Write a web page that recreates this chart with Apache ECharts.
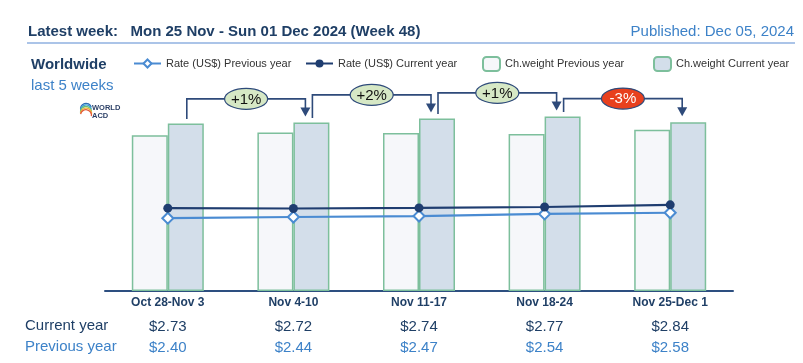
<!DOCTYPE html>
<html><head><meta charset="utf-8">
<script src="https://cdn.jsdelivr.net/npm/echarts@6/dist/echarts.min.js"></script>
<style>html,body{margin:0;padding:0;background:#fff}#c{width:803px;height:363px}</style>
</head><body><div id="c"></div>
<script>
const categories = ['Oct 28-Nov 3','Nov 4-10','Nov 11-17','Nov 18-24','Nov 25-Dec 1'];
const weightPrev = [155.7,158.4,158.0,157.1,161.2];
const weightCurr = [167.4,168.4,172.4,174.4,168.7];
const ratePrev = [2.40,2.44,2.47,2.54,2.58];
const rateCurr = [2.73,2.72,2.74,2.77,2.84];
const changes = ['+1%','+2%','+1%','-3%'];
const rateLabelsCurr = rateCurr.map(v=>'$'+v.toFixed(2));
const rateLabelsPrev = ratePrev.map(v=>'$'+v.toFixed(2));

const FONT = "'Liberation Sans',Arial,sans-serif";
const NAVY = '#1f3f66', BLUE = '#3d82c8', LINE_NAVY = '#1f3d70', LINE_BLUE = '#4a8bd2', GREEN = '#7dbf9c', CONN = '#2e4a7a';

const chart = echarts.init(document.getElementById('c'), null, {renderer:'canvas'});
function legendAt(left, top, name, w, h){
  return {left:left, top:top, itemWidth:w, itemHeight:h, itemGap:0, data:[name],
    textStyle:{fontFamily:FONT, fontSize:11, color:'#333'}, selectedMode:false};
}
const option = {
  animation:false,
  textStyle:{fontFamily:FONT},
  title:[
    {text:'Latest week:   Mon 25 Nov - Sun 01 Dec 2024 (Week 48)', left:23, top:19, textStyle:{fontFamily:FONT, fontSize:15, fontWeight:'bold', color:NAVY}},
    {text:'Published: Dec 05, 2024', right:4, top:19, textStyle:{fontFamily:FONT, fontSize:15, fontWeight:'normal', color:BLUE}},
    {text:'Worldwide', left:26, top:52, textStyle:{fontFamily:FONT, fontSize:15, fontWeight:'bold', color:NAVY}},
    {text:'last 5 weeks', left:26, top:73, textStyle:{fontFamily:FONT, fontSize:15, fontWeight:'normal', color:BLUE}}
  ],
  legend:[
    legendAt(128,53,'Rate (US$) Previous year',27,10),
    legendAt(300,53,'Rate (US$) Current year',27,10),
    legendAt(477,51,'Ch.weight Previous year',17,14),
    legendAt(648,51,'Ch.weight Current year',17,14)
  ],
  grid:{left:105, right:70, top:109, bottom:72, containLabel:false},
  xAxis:[
    {type:'category', data:categories, axisTick:{show:false},
     axisLine:{lineStyle:{color:'#2d4f80', width:2}},
     axisLabel:{margin:6, fontFamily:FONT, fontSize:12, fontWeight:'bold', color:NAVY}},
    {type:'category', data:rateLabelsCurr, position:'bottom', offset:20, axisTick:{show:false}, axisLine:{show:false},
     axisLabel:{fontFamily:FONT, fontSize:15, color:NAVY}},
    {type:'category', data:rateLabelsPrev, position:'bottom', offset:41, axisTick:{show:false}, axisLine:{show:false},
     axisLabel:{fontFamily:FONT, fontSize:15, color:BLUE}}
  ],
  yAxis:[
    {type:'value', min:0, max:182, show:false, splitLine:{show:false}},
    {type:'value', min:0, max:6, show:false, splitLine:{show:false}}
  ],
  series:[
    {name:'Ch.weight Previous year', type:'bar', data:weightPrev, barWidth:36, barGap:'0%', z:1,
     itemStyle:{color:'#f6f7fa', borderColor:GREEN, borderWidth:1.5}},
    {name:'Ch.weight Current year', type:'bar', data:weightCurr, barWidth:36, barGap:'0%', z:1,
     itemStyle:{color:'#d3deea', borderColor:GREEN, borderWidth:1.5}},
    {name:'Rate (US$) Previous year', type:'line', yAxisIndex:1, data:ratePrev, z:3,
     symbol:'diamond', symbolSize:11, showAllSymbol:true,
     lineStyle:{color:LINE_BLUE, width:2.2}, itemStyle:{color:'#fff', borderColor:LINE_BLUE, borderWidth:2}},
    {name:'Rate (US$) Current year', type:'line', yAxisIndex:1, data:rateCurr, z:4,
     symbol:'circle', symbolSize:9, showAllSymbol:true,
     lineStyle:{color:LINE_NAVY, width:2.2}, itemStyle:{color:LINE_NAVY}}
  ]
};
chart.setOption(option);

// connectors between consecutive current-year bars
const els = [];
for (let i=0;i<changes.length;i++){
  const a = chart.convertToPixel({seriesIndex:1}, [i, weightCurr[i]]);
  const b = chart.convertToPixel({seriesIndex:1}, [i+1, weightCurr[i+1]]);
  const x1 = a[0] + 18 + 1, x2 = b[0] + 18 - 6;
  const y1 = a[1] - 4.5, y2 = b[1] - 6;
  const yL = b[1] - 23.7;
  els.push({type:'polyline', shape:{points:[[x1,y1],[x1,yL],[x2,yL],[x2,y2-8]]}, style:{stroke:CONN, lineWidth:1.6, fill:null}, z:10});
  els.push({type:'polygon', shape:{points:[[x2-5,y2-9],[x2+5,y2-9],[x2,y2]]}, style:{fill:CONN}, z:10});
  const neg = changes[i].startsWith('-');
  const cx = (x1+x2)/2;
  els.push({type:'ellipse', shape:{cx:cx, cy:yL, rx:21.5, ry:10.5}, style:{fill: neg ? '#e8401e' : '#d6e8c5', stroke:CONN, lineWidth:1.2}, z:11});
  els.push({type:'text', x:cx, y:yL+0.5, style:{text:changes[i], fontFamily:FONT, fontSize:15, fill: neg ? '#fff' : '#111', align:'center', verticalAlign:'middle'}, z:12});
}
// header rule
els.push({type:'line', shape:{x1:27,y1:43,x2:795,y2:43}, style:{stroke:'#8fb0e0', lineWidth:1.5}});
// table row labels
const rowY1 = chart.convertToPixel({xAxisIndex:0, yAxisIndex:0}, [0,0])[1];
els.push({type:'text', x:25, y:rowY1+35, style:{text:'Current year', fontFamily:FONT, fontSize:15, fill:NAVY, verticalAlign:'middle'}});
els.push({type:'text', x:25, y:rowY1+56, style:{text:'Previous year', fontFamily:FONT, fontSize:15, fill:BLUE, verticalAlign:'middle'}});
// logo
const arcCols = ['#2e6db4','#3fa0d8','#6cc070','#f0b43c','#e35a3a'];
arcCols.forEach((c,k)=>{
  els.push({type:'arc', shape:{cx:86, cy:112, r:5.5, startAngle:Math.PI*(0.9+k*0.04), endAngle:Math.PI*(1.9+k*0.04)}, position:[0,(k-2)*1.6], style:{stroke:c, lineWidth:1.3, fill:null}});
});
els.push({type:'text', x:92, y:104, style:{text:'WORLD\nACD', fontFamily:FONT, fontSize:7.5, fontWeight:'bold', lineHeight:8, fill:'#2b3f66'}});
chart.setOption({graphic:{elements:els}});
</script></body></html>
